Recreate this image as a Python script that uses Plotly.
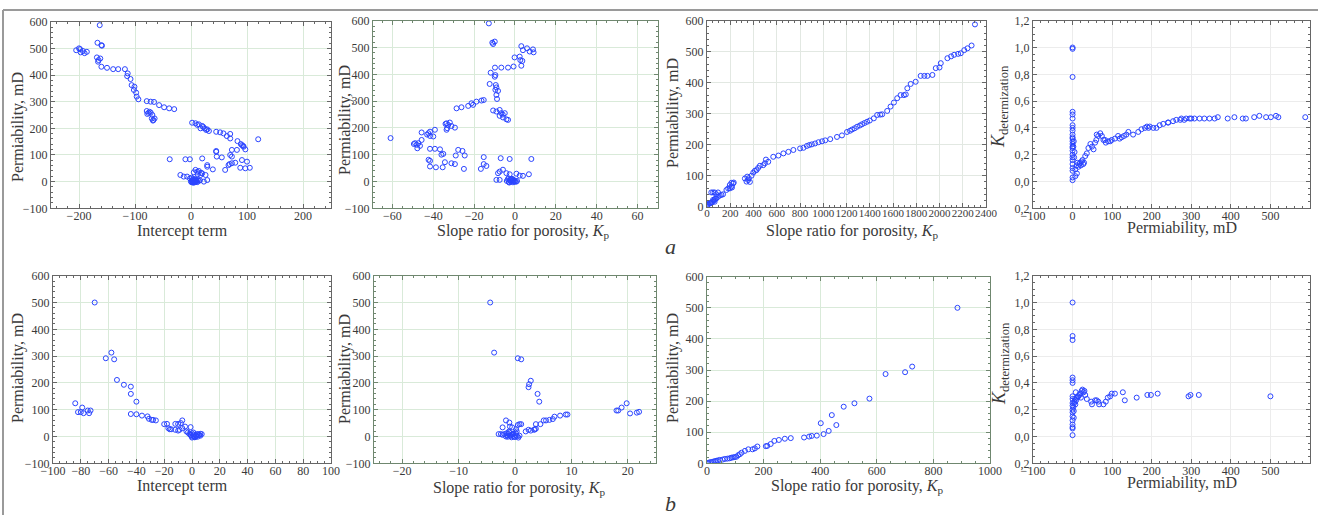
import plotly.graph_objects as go

W, H = 1318, 515

# ---------------- data ----------------
# a) panel 1: intercept term vs permeability
a1_intercept = [-163, -205, -198, -197, -193, -190, -186, -200, -167, -160, -159, -168, -162, -166, -165,
                -160, -150, -139, -130, -118, -113, -114, -108, -106, -101, -102, -98, -97, -94,
                -79, -72, -66, -57, -48, -39, -30, -79, -72, -78, -69, -70, -67, -65, -68, -74, -76,
                2, 8, 14, 20, 17, 24, 27, 32, 11, 22, 29, 45, 52, 58, 64, 70, 70, 83, 91, 94, 97, 89, 93, 120,
                -38, -10, -2, 20, 45, 46, 55, 70, 73, 82, 73, 67, 73, 79, 91, 100, 88, 97, 105, 61, 39, 45, 69,
                29, 29, 20, 17, 8, 11, -19, -13, -7, 26, 29, 23, 5, 14, 12, 18,
                0, 1, 2, 3, 4, 5, 6, 7, 8, 9, 10, 11, 12, 3, 5, 7, 9, 2, 4, 6, 8, 14, 16, -2, 1, 4]
a1_perm = [587, 493, 497, 485, 490, 482, 487, 500, 521, 512, 510, 466, 462, 450, 456,
           431, 427, 422, 422, 422, 406, 396, 385, 362, 356, 344, 334, 319, 309,
           302, 300, 299, 287, 279, 275, 272, 265, 259, 254, 250, 237, 231, 237, 229, 262, 258,
           221, 219, 215, 209, 200, 200, 194, 190, 213, 205, 196, 187, 185, 181, 171, 162, 179, 152, 137, 131, 121, 141, 134, 159,
           84, 84, 84, 87, 112, 94, 91, 100, 119, 119, 94, 62, 69, 71, 81, 75, 52, 50, 52, 44, 46, 115, 66,
           62, 56, 31, 25, 44, 37, 25, 19, 19, 25, 6, 0, 35, 40, 28, 33,
           0, -2, 2, -3, 1, 4, -1, 3, 0, 5, 2, -2, 6, 7, -4, 8, 3, 5, -1, 0, 9, 3, 5, 12, 15, 10]

# a) panel 2: slope ratio Kp vs permeability
a2_kp = [-12.8, -11.1, -9.9, -10.7, 3.1, 3.9, 5.9, 7.2, 8.8, 9.1, -0.2, 2.3, 2.6, 3.6, 3.1,
         -11.9, -9.8, -6.7, -3.4, -0.7, -9.6, -9.9, -12.4, -9.4, -9.1, -8.3, -9.6, -9.1, -8.8,
         -15.3, -16.4, -18.9, -21.3, -22.9, -20.5, -26.2, -28.6,
         -10.7, -9.1, -7.5, -6.7, -5.0, -5.9, -4.2, -3.4, -7.5, -6.0,
         -33.5, -31.9, -32.7, -31.1, -33.2, -33.5, -29.4, -34.0,
         -41.6, -42.4, -41.6, -40.0, -39.2, -45.7, -43.0, -60.9,
         -48.9, -48.1, -47.3, -46.5, -47.8, -45.7, -49.5,
         -41.6, -39.2, -36.7, -35.1, -27.8, -25.7, -24.6, -29.0, -36.0,
         -15.3, -15.3, -14.0, -42.3, -41.6, -34.3, -31.1, -29.4,
         -41.6, -38.7, -35.4, -25.0, -16.7, -7.0, -2.6, 8.0,
         -8.3, -7.5, -5.9, -9.1, -7.5, -4.2, -2.6, 0.7, 2.3, 3.9, 6.8,
         -4.0, -3.5, -3.0, -2.5, -2.0, -1.5, -1.0, -0.5, 0.0, 0.5, -3.2, -2.2, -1.2, -0.2, -2.8, -1.8, -0.8, 1.0]
a2_perm = [590, 518, 522, 513, 505, 490, 497, 485, 493, 482, 463, 466, 453, 450, 432,
           406, 425, 425, 425, 429, 397, 391, 364, 360, 351, 338, 342, 323, 308,
           304, 302, 298, 292, 282, 286, 277, 273,
           265, 261, 267, 255, 255, 239, 232, 230, 245, 250,
           217, 220, 211, 207, 199, 193, 201, 215,
           186, 180, 170, 168, 193, 183, 175, 162,
           143, 137, 143, 133, 124, 155, 140,
           122, 122, 120, 103, 118, 114, 97, 97, 100,
           91, 65, 58, 81, 77, 72, 68, 65,
           56, 53, 53, 47, 47, 87, 84, 84,
           31, 37, 44, 6, 6, 31, 27, 29, 22, 21, 27,
           2, 8, -2, 5, 0, 10, -3, 4, 1, -1, 12, 6, 3, 0, -4, 9, 7, 2]

# a) panel 3: slope ratio Kp vs permeability (ordered)
a3_kp = [0, 5, 9, 15, 23, 30, 37, 45, 52, 60, 66, 73, 81, 66, 37, 52, 66, 80, 95, 95, 110, 124, 138,
         167, 182, 196, 210, 225, 210, 196, 215, 230,
         326, 340, 354, 369, 346, 383, 360, 398, 412, 426, 440, 455, 484, 498, 507, 527,
         570, 614, 657, 700, 743, 801, 830, 859, 880, 902, 930, 959, 990, 1017, 1060,
         1118, 1161, 1204, 1230, 1248, 1270, 1291, 1315, 1334, 1355, 1377, 1400, 1435, 1464, 1490, 1507,
         1550, 1579, 1608, 1636, 1665, 1694, 1710, 1723, 1752, 1795, 1838, 1870, 1896, 1939,
         1968, 2000, 2011, 2068, 2100, 2126, 2160, 2183, 2213, 2241, 2276, 2305]
a3_perm = [2, 5, 7, 9, 11, 12, 12, 15, 22, 20, 24, 26, 27, 16, 46, 46, 46, 40, 46, 32, 36, 38, 40,
           54, 59, 70, 65, 75, 77, 59, 62, 78,
           91, 81, 86, 80, 97, 100, 92, 110, 116, 118, 125, 132, 134, 140, 152, 145,
           161, 165, 172, 177, 183, 188, 190, 196, 199, 201, 204, 208, 211, 214, 218,
           225, 230, 241, 245, 249, 253, 258, 262, 266, 270, 274, 278, 285, 296, 297, 298,
           309, 323, 336, 350, 360, 360, 362, 382, 396, 403, 422, 422, 422, 425,
           447, 449, 463, 479, 485, 490, 493, 495, 505, 511, 520, 588]

# a) panel 4: permeability vs K determination
a4_perm = [0] * 25 + [7, 11, 7, 15, 19, 23, 27, 32, 36, 40, 45, 49, 53, 57, 61, 65, 70, 74, 78, 82, 90, 99,
           107, 115, 124, 136, 141, 153, 166, 174, 183, 195, 204, 212, 220, 229, 241, 254, 262, 275, 287,
           300, 308, 321, 333, 346, 359, 367, 392, 409, 430, 438, 459, 472, 489, 501, 514, 520, 588,
           3, 5, 2, 4, 10, 12, 17, 21, 25, 29, 60, 84, 95, 119, 130, 188, 192, 242, 272, 282, 296]
a4_kdet = [1.00, 0.99, 0.78, 0.52, 0.50, 0.47, 0.42, 0.40, 0.38, 0.35, 0.33, 0.32, 0.30, 0.28, 0.26,
           0.25, 0.23, 0.20, 0.18, 0.16, 0.13, 0.10, 0.08, 0.03, 0.01,
           0.09, 0.06, 0.04, 0.11, 0.14, 0.15, 0.13, 0.19, 0.21, 0.25, 0.28, 0.26, 0.24, 0.29, 0.35, 0.34,
           0.36, 0.34, 0.31, 0.31, 0.30, 0.31, 0.32, 0.34, 0.33, 0.35, 0.37, 0.35, 0.37, 0.39, 0.40, 0.41,
           0.40, 0.40, 0.42, 0.43, 0.44, 0.45, 0.46, 0.47, 0.47, 0.47, 0.47, 0.47, 0.47, 0.47, 0.47, 0.48,
           0.47, 0.48, 0.47, 0.47, 0.48, 0.49, 0.48, 0.48, 0.49, 0.48, 0.48,
           0.30, 0.22, 0.26, 0.18, 0.12, 0.14, 0.13, 0.12, 0.16, 0.14, 0.31, 0.29, 0.30, 0.32, 0.34, 0.41,
           0.40, 0.44, 0.46, 0.46, 0.47]

# b) panel 1: intercept term vs permeability
b1_intercept = [-70, -58, -62, -56, -54, -49, -44, -44, -40,
                -84, -82, -80, -79, -78, -75, -73, -74,
                -44, -40, -36, -32, -31, -29, -28, -26,
                -20, -18, -17, -16, -15, -12, -10, -8, -7, -12, -10, -9, -7,
                -5, -4, -1, -3, -2, -1, 0, 1, 2, 3, 4, 5, 6, 7, 0, 1, 2, 3, 4, 5, 6, 1, 2, 3, -1, 0, 4]
b1_perm = [500, 313, 292, 288, 211, 193, 186, 159, 130,
           124, 91, 91, 108, 87, 97, 97, 87,
           84, 83, 78, 75, 66, 62, 62, 60,
           46, 47, 31, 27, 27, 47, 47, 50, 60, 25, 22, 25, 31,
           37, 19, 35, 15, 10, 5, 0, 2, -2, 4, 8, 6, 3, 9, 12, 7, -3, 1, -1, 5, 10, 15, 0, 3, 6, -4, 9]

# b) panel 2: slope ratio Kp vs permeability
b2_kp = [-4.4, -3.7, 0.5, 1.1, 2.8, 2.5, 2.4, 4.0, 4.3,
         18.0, 18.3, 18.9, 19.8, 20.4, 21.6, 22.0,
         9.0, 9.3, 8.0, 7.0, 6.7, 6.1, 5.5, 5.1, 4.5, 3.7, 3.4, 2.8, 2.4, 1.9, 3.7, 3.5,
         -1.6, -1.0, -0.9, -0.5, -2.2, 0.5, 0.8, 1.1, 0.2, 0.3,
         -2.9, -2.5, -2.2, -1.9,
         -1.6, -1.4, -1.2, -1.0, -0.8, -0.6, -0.4, -0.2, 0.0, 0.2, 0.4, 0.6, 0.8,
         -1.5, -1.1, -0.7, -0.3, 0.1, -1.3, -0.9, -0.5]
b2_perm = [500, 313, 292, 288, 208, 195, 184, 159, 130,
           97, 97, 108, 124, 86, 89, 92,
           82, 82, 78, 74, 65, 62, 60, 60, 46, 29, 25, 22, 25, 19, 46, 27,
           60, 52, 37, 34, 34, 43, 46, 46, 27, 19,
           9, 9, 6, 9,
           0, 5, 10, 15, 2, -3, 8, 0, -2, 4, 1, -4, 3,
           12, 18, 6, 10, 14, -1, 3, 8]

# b) panel 3: slope ratio Kp vs permeability (ordered)
b3_kp = [885, 725, 700, 631, 574, 521, 483, 441, 402, 457, 430, 412, 388, 370, 361, 343,
         296, 275, 254, 238, 225, 213, 208, 178, 169, 161, 146, 134, 122, 116, 110, 104, 98, 92,
         86, 80, 72, 63, 55, 45, 38, 33, 27, 21, 15, 9, 4, 2]
b3_perm = [500, 311, 293, 287, 208, 193, 182, 155, 129, 123, 104, 94, 89, 88, 86, 83,
           81, 79, 75, 72, 62, 56, 55, 54, 48, 45, 45, 40, 34, 29, 26, 21, 20, 19,
           18, 16, 15, 14, 12, 11, 9, 8, 7, 5, 4, 3, 1, 0]

# b) panel 4: permeability vs K determination
b4_perm = [0] * 18 + [3, 5, 8, 11, 15, 19, 23, 28, 30, 32, 36, 47, 49, 57, 61, 65, 67, 78, 84, 89, 95,
           99, 107, 127, 132, 162, 189, 198, 215, 293, 298, 319, 500,
           2, 4, 6, 9, 13, 17, 21, 25, 3, 7]
b4_kdet = [1.00, 0.75, 0.72, 0.44, 0.42, 0.40, 0.30, 0.28, 0.25, 0.23, 0.20, 0.18, 0.15, 0.12,
           0.09, 0.07, 0.06, 0.01,
           0.19, 0.26, 0.33, 0.29, 0.30, 0.32, 0.34, 0.33, 0.34, 0.31, 0.28, 0.26, 0.24, 0.27, 0.27,
           0.26, 0.24, 0.24, 0.26, 0.29, 0.30, 0.32, 0.32, 0.33, 0.27, 0.29, 0.31, 0.31, 0.32, 0.30,
           0.31, 0.31, 0.30,
           0.22, 0.25, 0.28, 0.27, 0.30, 0.31, 0.29, 0.35, 0.14, 0.24]

Y_TITLE = "Permiability, mD"
KP_TITLE = "Slope ratio for porosity, <i>K</i><sub>p</sub>"
KDET_TITLE = "<i>K</i><sub>determization</sub>"
KDET_TICKVALS = [-0.2, 0.0, 0.2, 0.4, 0.6, 0.8, 1.0, 1.2]
KDET_TICKTEXT = ["0,2", "0,0", "0,2", "0,4", "0,6", "0,8", "1,0", "1,2"]

# panel definitions: data, pixel box (left, right, top, bottom), ranges, ticks, titles
panels = [
    dict(x=a1_intercept, y=a1_perm, box=(51, 331, 21.7, 208.3), xr=[-250, 250], yr=[-100, 600],
         xd=100, xm=20, yd=100, ym=20, xt="Intercept term", xtp=(182, 231), yt=Y_TITLE, ytp=(18, 127),
         grid="#d9ead9", line="#666666"),
    dict(x=a2_kp, y=a2_perm, box=(373, 658, 20.7, 208.3), xr=[-69.5, 70], yr=[-100, 600],
         xd=20, xm=5, yd=100, ym=20, xt=KP_TITLE, xtp=(523, 231), yt=Y_TITLE, ytp=(345, 120),
         grid="#d9ead9", line="#6f876f"),
    dict(x=a3_kp, y=a3_perm, box=(707, 986, 20.7, 206.7), xr=[0, 2400], yr=[0, 600],
         xd=200, xm=50, yd=100, ym=20, xt=KP_TITLE, xtp=(853, 231), yt=Y_TITLE, ytp=(673, 113),
         grid="#e2e8e2", line="#666666", xfs=11),
    dict(x=a4_perm, y=a4_kdet, box=(1033, 1310, 20.7, 208.3), xr=[-100, 600], yr=[-0.2, 1.2],
         xd=100, xm=20, yd=0.2, ym=0.05, xt=Y_TITLE, xtp=(1182, 228), yt=KDET_TITLE, ytp=(1000, 107),
         grid="#ececec", line="#666666", kdet=True),
    dict(x=b1_intercept, y=b1_perm, box=(53, 331, 275.7, 463.3), xr=[-100, 100], yr=[-100, 600],
         xd=20, xm=5, yd=100, ym=20, xt="Intercept term", xtp=(182, 486), yt=Y_TITLE, ytp=(18, 368),
         grid="#d9ead9", line="#666666"),
    dict(x=b2_kp, y=b2_perm, box=(374, 656, 275.7, 463.3), xr=[-25, 25], yr=[-100, 600],
         xd=10, xm=2, yd=100, ym=20, xt=KP_TITLE, xtp=(519, 488), yt=Y_TITLE, ytp=(345, 369),
         grid="#d9ead9", line="#6f876f"),
    dict(x=b3_kp, y=b3_perm, box=(707, 990, 276.7, 463.3), xr=[0, 1000], yr=[0, 600],
         xd=200, xm=50, yd=100, ym=20, xt=KP_TITLE, xtp=(857, 486), yt=Y_TITLE, ytp=(673, 368),
         grid="#d9ead9", line="#6f876f"),
    dict(x=b4_perm, y=b4_kdet, box=(1033, 1310, 275.7, 463.3), xr=[-100, 600], yr=[-0.2, 1.2],
         xd=100, xm=20, yd=0.2, ym=0.05, xt=Y_TITLE, xtp=(1182, 483), yt=KDET_TITLE, ytp=(1000, 364),
         grid="#ececec", line="#666666", kdet=True),
]

FONT = "'Liberation Serif', 'DejaVu Serif', 'Times New Roman', Times, serif"
TEXT_C = "#3a3a3a"
fig = go.Figure()
layout = dict(width=W, height=H, margin=dict(l=0, r=0, t=0, b=0),
              paper_bgcolor="white", plot_bgcolor="white", showlegend=False,
              font=dict(family=FONT, size=12, color=TEXT_C))
annotations = []
shapes = []

for i, p in enumerate(panels, start=1):
    sfx = "" if i == 1 else str(i)
    l, r, t, b = p["box"]
    xa = dict(domain=[l / W, r / W], range=p["xr"], dtick=p["xd"], tick0=0, tickangle=0,
              showgrid=True, gridcolor=p["grid"], gridwidth=1, zeroline=False,
              showline=True, linecolor=p["line"], linewidth=1, mirror="ticks",
              ticks="inside", ticklen=4, tickcolor=p["line"], ticklabelstandoff=-4,
              minor=dict(dtick=p["xm"], ticks="inside", ticklen=2, tickcolor=p["line"], showgrid=False),
              anchor="y" + sfx, automargin=False, fixedrange=True,
              tickfont=dict(family=FONT, size=p.get("xfs", 12), color=TEXT_C))
    ya = dict(domain=[1 - b / H, 1 - t / H], range=p["yr"], dtick=p["yd"], tick0=0, tickangle=0,
              showgrid=True, gridcolor=p["grid"], gridwidth=1, zeroline=False,
              showline=True, linecolor=p["line"], linewidth=1, mirror="ticks",
              ticks="inside", ticklen=4, tickcolor=p["line"],
              minor=dict(dtick=p["ym"], ticks="inside", ticklen=2, tickcolor=p["line"], showgrid=False),
              anchor="x" + sfx, automargin=False, fixedrange=True,
              tickfont=dict(family=FONT, size=12, color=TEXT_C))
    if p.get("kdet"):
        ya.update(tickmode="array", tickvals=KDET_TICKVALS, ticktext=KDET_TICKTEXT)
    layout["xaxis" + sfx] = xa
    layout["yaxis" + sfx] = ya
    fig.add_trace(go.Scatter(x=p["x"], y=p["y"], mode="markers", xaxis="x" + sfx, yaxis="y" + sfx,
                             marker=dict(symbol="circle-open", size=5, color="#2b45ff",
                                         line=dict(width=1, color="#2b45ff")),
                             cliponaxis=True, hoverinfo="x+y"))
    # axis titles
    annotations.append(dict(text=p["xt"], x=p["xtp"][0] / W, y=1 - p["xtp"][1] / H,
                            xref="paper", yref="paper", showarrow=False,
                            xanchor="center", yanchor="middle",
                            font=dict(family=FONT, size=16, color=TEXT_C)))
    ysize = 18 if p.get("kdet") else 16
    annotations.append(dict(text=p["yt"], x=p["ytp"][0] / W, y=1 - p["ytp"][1] / H,
                            xref="paper", yref="paper", showarrow=False, textangle=-90,
                            xanchor="center", yanchor="middle",
                            font=dict(family=FONT, size=ysize, color=TEXT_C)))

# panel letters
annotations.append(dict(text="<i>a</i>", x=670 / W, y=1 - 247 / H, xref="paper", yref="paper",
                        showarrow=False, xanchor="center", yanchor="middle",
                        font=dict(family=FONT, size=22, color=TEXT_C)))
annotations.append(dict(text="<i>b</i>", x=670 / W, y=1 - 503 / H, xref="paper", yref="paper",
                        showarrow=False, xanchor="center", yanchor="middle",
                        font=dict(family=FONT, size=22, color=TEXT_C)))

# outer gray frame (top and left)
shapes.append(dict(type="line", xref="paper", yref="paper", x0=3 / W, x1=1, y0=1 - 10 / H, y1=1 - 10 / H,
                   line=dict(color="#9a9a9a", width=2)))
shapes.append(dict(type="line", xref="paper", yref="paper", x0=3 / W, x1=3 / W, y0=0, y1=1 - 10 / H,
                   line=dict(color="#9a9a9a", width=2)))

layout["annotations"] = annotations
layout["shapes"] = shapes
fig.update_layout(**layout)
fig.write_html("out.html", config={"displayModeBar": False},
               post_script="document.body.style.margin='0';document.body.style.padding='0';"
                           "document.documentElement.style.overflow='hidden';")
